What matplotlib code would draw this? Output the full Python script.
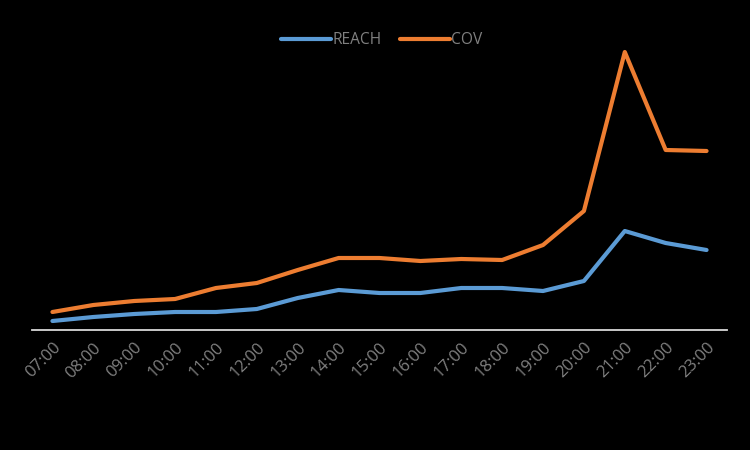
import matplotlib.pyplot as plt

hours = ['07:00', '08:00', '09:00', '10:00', '11:00', '12:00', '13:00', '14:00', '15:00',
         '16:00', '17:00', '18:00', '19:00', '20:00', '21:00', '22:00', '23:00']
reach = [9, 13, 16, 18, 18, 21, 32, 40, 37, 37, 42, 42, 39, 49, 99, 87, 80]
cov = [18, 25, 29, 31, 42, 47, 60, 72, 72, 69, 71, 70, 85, 119, 278, 180, 179]

plt.rcParams['font.family'] = ['Open Sans', 'DejaVu Sans']

fig = plt.figure(figsize=(7.5, 4.5), dpi=100, facecolor='black')
ax = fig.add_axes([32 / 750, 120 / 450, 695 / 750, 290 / 450])
ax.set_facecolor('black')

x = list(range(len(hours)))
ax.plot(x, reach, color='#5B9BD5', lw=3, label='REACH', solid_capstyle='round')
ax.plot(x, cov, color='#ED7D31', lw=3, label='COV', solid_capstyle='round')

ax.set_xlim(-0.5, len(hours) - 0.5)
ax.set_ylim(0, 290)

for s in ['top', 'right', 'left']:
    ax.spines[s].set_visible(False)
ax.spines['bottom'].set_color('#d9d9d9')
ax.spines['bottom'].set_linewidth(1.3)
ax.set_yticks([])
ax.set_xticks(x)
ax.set_xticklabels(hours, rotation=45, ha='right', rotation_mode='anchor',
                   color='#808080', fontsize=12)
ax.tick_params(axis='x', length=0, pad=7)

leg = ax.legend(loc='center', bbox_to_anchor=(0.503, 1.0), ncol=2, frameon=False,
                fontsize=11.2, handlelength=3.2, columnspacing=1.2, handletextpad=0.1)
for t in leg.get_texts():
    t.set_color('#808080')

fig.savefig('out.png', facecolor='black')
